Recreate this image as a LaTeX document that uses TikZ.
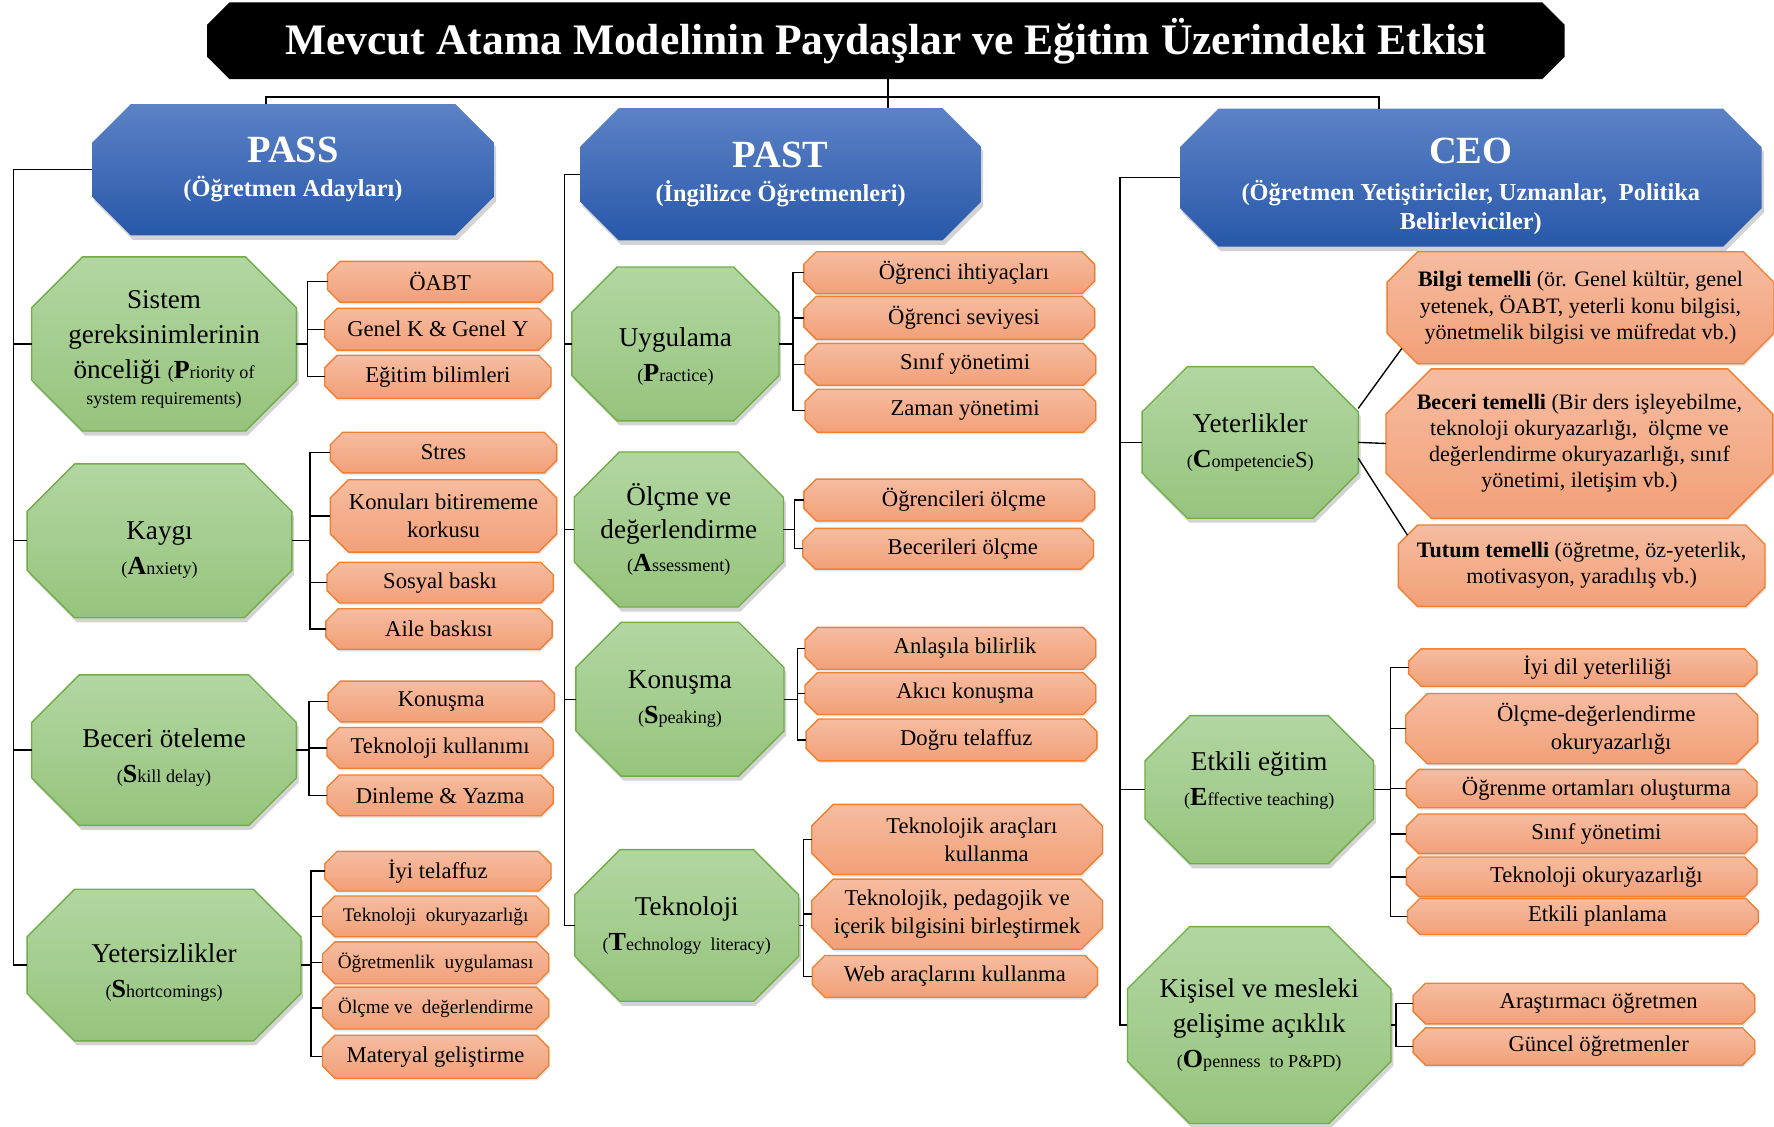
\documentclass[tikz,border=0pt]{standalone}
\usepackage{fontspec}
\setmainfont{Liberation Serif}
\usetikzlibrary{shadows}

\definecolor{blueTop}{RGB}{92,130,198}
\definecolor{blueBot}{RGB}{40,88,170}
\definecolor{greenTop}{RGB}{178,214,162}
\definecolor{greenBot}{RGB}{150,196,124}
\definecolor{greenLine}{RGB}{112,173,71}
\definecolor{orangeTop}{RGB}{246,188,160}
\definecolor{orangeBot}{RGB}{242,160,120}
\definecolor{orangeLine}{RGB}{240,128,48}

\pgfdeclarelayer{bg}
\pgfsetlayers{bg,main}

% English name: big first letter, small rest
\newcommand{\eng}[2]{{\fontsize{16}{17}\selectfont(}{\fontsize{23}{23}\selectfont\bfseries #1}{\fontsize{16}{17}\selectfont #2}}
% text block moved up/down inside its box
\newcommand{\lowered}[2]{\raisebox{#1}[0pt][0pt]{\begin{tabular}{@{}c@{}}#2\end{tabular}}}
% octagon round a node: name, chamfer, style
\newcommand{\octo}[3]{%
  \path[#3] ([xshift=#2]#1.north west) -- ([xshift=-#2]#1.north east)
    -- ([yshift=-#2]#1.north east) -- ([yshift=#2]#1.south east)
    -- ([xshift=-#2]#1.south east) -- ([xshift=#2]#1.south west)
    -- ([yshift=#2]#1.south west) -- ([yshift=-#2]#1.north west) -- cycle;}

\begin{document}
\begin{tikzpicture}[x=1pt, y=-1pt,
    wh/.style 2 args={minimum width=#1pt, minimum height=#2pt},
    up/.style={execute at end node={\rule[-#1]{0pt}{0pt}}},
    tshift/.style={execute at begin node={\hspace*{26pt}}},
    titlebox/.style={text=white, inner sep=0pt, outer sep=0pt,
        font=\bfseries\fontsize{38.5}{40}\selectfont},
    headbox/.style={text=white, align=center, inner sep=0pt, outer sep=0pt,
        font=\bfseries\fontsize{21.5}{30}\selectfont},
    groupbox/.style={align=center, inner sep=0pt, outer sep=0pt,
        font=\fontsize{24}{31}\selectfont},
    itembox/.style={align=center, inner sep=0pt, outer sep=0pt,
        font=\fontsize{20}{25}\selectfont},
    headfill/.style={top color=blueTop, bottom color=blueBot,
        drop shadow={shadow xshift=2pt, shadow yshift=-4pt, opacity=.35}},
    groupfill/.style={top color=greenTop, bottom color=greenBot, draw=greenLine, line width=1.2pt,
        drop shadow={shadow xshift=2pt, shadow yshift=-4pt, opacity=.35}},
    itemfill/.style={top color=orangeTop, bottom color=orangeBot, draw=orangeLine, line width=1.2pt,
        drop shadow={shadow xshift=1pt, shadow yshift=-2pt, opacity=.2}},
    link/.style={line width=1.2pt}
]
\useasboundingbox (0,0) rectangle (1568,996);

% Title
\node[titlebox, wh={1200}{68}] (Title) at (783,36)
    {Mevcut Atama Modelinin Paydaşlar ve Eğitim Üzerindeki Etkisi};

% Stakeholders
\node[headbox, wh={355}{116}] (Pass) at (259,150)
    {{\fontsize{34}{36}\selectfont PASS}\\(Öğretmen Adayları)};
\node[headbox, wh={354}{117}] (Past) at (690,154)
    {{\fontsize{34}{36}\selectfont PAST}\\(İngilizce Öğretmenleri)};
\node[headbox, wh={514}{122}] (Ceo) at (1300,157)
    {\lowered{-15pt}{{\fontsize{34}{36}\selectfont CEO}\\[3pt](Öğretmen Yetiştiriciler, Uzmanlar,~~Politika\\[-5pt]Belirleviciler)}};

% PASS groups
\node[groupbox, wh={234}{154}] (Sistem) at (145,304)
    {\lowered{-11pt}{Sistem\\gereksinimlerinin\\önceliği \eng{P}{riority of}\\[-8pt]{\fontsize{16}{17}\selectfont system requirements)}}};
\node[groupbox, wh={234}{136}] (Kaygi) at (141,478) {\lowered{-14pt}{Kaygı\\\eng{A}{nxiety)}}};
\node[groupbox, wh={234}{133}] (Beceri) at (145,663) {\lowered{-13pt}{Beceri öteleme\\\eng{S}{kill delay)}}};
\node[groupbox, wh={242}{134}] (Yetersiz) at (145,853) {\lowered{-13pt}{Yetersizlikler\\\eng{S}{hortcomings)}}};

% PASS items
\node[itembox, wh={199}{36}] (Sistem1) at (389,249) {ÖABT};
\node[itembox, wh={200}{37}] (Sistem2) at (387,291) {Genel K \& Genel Y};
\node[itembox, wh={200}{38}] (Sistem3) at (387,333) {Eğitim bilimleri};
\node[itembox, wh={200}{36}] (Kaygi1) at (392,400) {Stres};
\node[itembox, wh={200}{64}] (Kaygi2) at (392,456) {Konuları bitirememe\\korkusu};
\node[itembox, wh={200}{36}] (Kaygi3) at (389,515) {Sosyal baskı};
\node[itembox, wh={200}{36}] (Kaygi4) at (388,556) {Aile baskısı};
\node[itembox, wh={200}{36}] (Beceri1) at (390,620) {Konuşma};
\node[itembox, wh={200}{36}] (Beceri2) at (389,661) {Teknoloji kullanımı};
\node[itembox, wh={200}{36}] (Beceri3) at (389,703) {Dinleme \& Yazma};
\node[itembox, wh={200}{35}] (Yetersiz1) at (387,770) {İyi telaffuz};
\node[itembox, wh={200}{36}, font=\fontsize{17}{20}\selectfont] (Yetersiz2) at (385,810) {Teknoloji~~okuryazarlığı};
\node[itembox, wh={200}{37}, font=\fontsize{17}{20}\selectfont] (Yetersiz3) at (385,851) {Öğretmenlik~~uygulaması};
\node[itembox, wh={200}{37}, font=\fontsize{17}{20}\selectfont] (Yetersiz4) at (385,891) {Ölçme~ve~ değerlendirme};
\node[itembox, wh={200}{38}] (Yetersiz5) at (385,934) {Materyal geliştirme};

% PAST groups
\node[groupbox, wh={183}{136}] (Uygulama) at (597,304) {\lowered{-18pt}{Uygulama\\\eng{P}{ractice)}}};
\node[groupbox, wh={185}{137}] (Olcme) at (600,468) {Ölçme ve\\[-2pt]değerlendirme\\[-2pt]\eng{A}{ssessment)}};
\node[groupbox, wh={184}{136}] (Konusma) at (601,618) {Konuşma\\\eng{S}{peaking)}};
\node[groupbox, wh={198}{134}] (Teknoloji) at (607,818) {Teknoloji\\\eng{T}{echnology~ literacy)}};

% PAST items
\node[itembox, tshift, wh={257}{37}] (Uygulama1) at (839,241) {Öğrenci ihtiyaçları};
\node[itembox, tshift, wh={257}{38}] (Uygulama2) at (839,281) {Öğrenci seviyesi};
\node[itembox, tshift, wh={257}{37}] (Uygulama3) at (840,322) {Sınıf yönetimi};
\node[itembox, tshift, wh={257}{38}] (Uygulama4) at (840,363) {Zaman yönetimi};
\node[itembox, tshift, wh={257}{37}] (Olcme1) at (839,442) {Öğrencileri ölçme};
\node[itembox, tshift, wh={257}{36}] (Olcme2) at (838,485) {Becerileri ölçme};
\node[itembox, tshift, wh={257}{37}] (Konusma1) at (840,573) {Anlaşıla bilirlik};
\node[itembox, tshift, wh={257}{37}] (Konusma2) at (840,613) {Akıcı konuşma};
\node[itembox, tshift, wh={257}{37}] (Konusma3) at (841,654) {Doğru telaffuz};
\node[itembox, tshift, wh={257}{62}] (Teknoloji1) at (846,742) {Teknolojik araçları\\\hspace*{26pt}kullanma};
\node[itembox, wh={257}{62}] (Teknoloji2) at (846,808) {Teknolojik, pedagojik ve\\içerik bilgisini birleştirmek};
\node[itembox, wh={252}{37}] (Teknoloji3) at (844,863) {Web araçlarını kullanma};

% CEO groups
\node[groupbox, wh={191}{134}] (Yeterlik) at (1105,391) {Yeterlikler\\\eng{C}{ompetencie{\fontsize{20}{20}\selectfont S})}};
\node[groupbox, wh={202}{131}, up=20pt] (Etkili) at (1113,698) {Etkili eğitim\\\eng{E}{ffective teaching)}};
\node[groupbox, wh={233}{174}] (Kisisel) at (1113,906) {Kişisel ve mesleki\\gelişime açıklık\\\eng{O}{penness~ to P\&PD)}};

% CEO items
\node[itembox, wh={342}{99}, font=\fontsize{19.5}{23}\selectfont] (Yeterlik1) at (1397,272)
    {\textbf{Bilgi temelli} (ör. Genel kültür, genel\\yetenek, ÖABT, yeterli konu bilgisi,\\yönetmelik bilgisi ve müfredat vb.)};
\node[itembox, wh={342}{132}, font=\fontsize{19.5}{23}\selectfont] (Yeterlik2) at (1396,392)
    {\textbf{Beceri temelli} (Bir ders işleyebilme,\\teknoloji okuryazarlığı,~~ölçme ve\\değerlendirme okuryazarlığı, sınıf\\yönetimi, iletişim vb.)};
\node[itembox, wh={324}{72}, font=\fontsize{19.5}{23}\selectfont] (Yeterlik3) at (1398,500)
    {\textbf{Tutum temelli} (öğretme, öz-yeterlik,\\motivasyon, yaradılış vb.)};
\node[itembox, tshift, wh={308}{33}] (Etkili1) at (1399,590) {İyi dil yeterliliği};
\node[itembox, tshift, wh={311}{62}] (Etkili2) at (1398,644) {Ölçme-değerlendirme\\\hspace*{26pt}okuryazarlığı};
\node[itembox, tshift, wh={310}{34}] (Etkili3) at (1398,697) {Öğrenme ortamları oluşturma};
\node[itembox, tshift, wh={310}{35}] (Etkili4) at (1398,737) {Sınıf yönetimi};
\node[itembox, tshift, wh={310}{35}] (Etkili5) at (1398,775) {Teknoloji okuryazarlığı};
\node[itembox, tshift, wh={310}{32}] (Etkili6) at (1399,810) {Etkili planlama};
\node[itembox, tshift, wh={302}{36}] (Kisisel1) at (1400,887) {Araştırmacı öğretmen};
\node[itembox, tshift, wh={302}{33}] (Kisisel2) at (1400,925) {Güncel öğretmenler};

% shapes behind the texts
\begin{pgfonlayer}{bg}
\octo{Title}{20pt}{fill=black}
\foreach \n in {Pass,Past,Ceo} \octo{\n}{34pt}{headfill};
\foreach \n/\c in {Sistem/45pt, Kaygi/42pt, Beceri/42pt, Yetersiz/42pt,
    Uygulama/40pt, Olcme/40pt, Konusma/40pt, Teknoloji/40pt,
    Yeterlik/40pt, Etkili/40pt, Kisisel/55pt}
    \octo{\n}{\c}{groupfill};
\foreach \n/\c in {Sistem1/11pt, Sistem2/11pt, Sistem3/11pt,
    Kaygi1/11pt, Kaygi2/16pt, Kaygi3/11pt, Kaygi4/11pt,
    Beceri1/11pt, Beceri2/11pt, Beceri3/11pt,
    Yetersiz1/11pt, Yetersiz2/11pt, Yetersiz3/11pt, Yetersiz4/11pt, Yetersiz5/11pt,
    Uygulama1/11pt, Uygulama2/11pt, Uygulama3/11pt, Uygulama4/11pt,
    Olcme1/11pt, Olcme2/11pt, Konusma1/11pt, Konusma2/11pt, Konusma3/11pt,
    Teknoloji1/19pt, Teknoloji2/19pt, Teknoloji3/11pt,
    Yeterlik1/27pt, Yeterlik2/40pt, Yeterlik3/17pt,
    Etkili1/11pt, Etkili2/19pt, Etkili3/11pt, Etkili4/11pt, Etkili5/11pt, Etkili6/11pt,
    Kisisel1/11pt, Kisisel2/11pt}
    \octo{\n}{\c}{itemfill};
\end{pgfonlayer}

% connectors
\coordinate (Hub) at (785,86);
\draw[line width=2pt] (Title.south -| Hub) -- (Hub);
\draw[line width=2pt] ([xshift=-24pt]Pass.north) |- (Hub) -| ([xshift=-81pt]Ceo.north);
\draw[line width=2pt] (Hub) -- (Hub |- Past.north);

\coordinate (SpineL) at (12,0);
\coordinate (SpineM) at (499,0);
\coordinate (SpineR) at (990,0);
\foreach \h/\c/\s in {Pass/Sistem/SpineL, Pass/Kaygi/SpineL, Pass/Beceri/SpineL, Pass/Yetersiz/SpineL,
    Past/Uygulama/SpineM, Past/Olcme/SpineM, Past/Konusma/SpineM, Past/Teknoloji/SpineM,
    Ceo/Yeterlik/SpineR, Ceo/Etkili/SpineR, Ceo/Kisisel/SpineR}
    \draw[link] (\c.west) -- (\c.west -| \s) |- (\h.west);

\coordinate (BrA) at (272,0);
\coordinate (BrB) at (274,0);
\coordinate (BrC) at (273,0);
\coordinate (BrD) at (275,0);
\coordinate (BrE) at (701,0);
\coordinate (BrF) at (702,0);
\coordinate (BrG) at (705,0);
\coordinate (BrH) at (710,0);
\coordinate (BrM) at (1229,0);
\coordinate (BrN) at (1234,0);
\foreach \p/\c/\b in {Sistem/Sistem1/BrA, Sistem/Sistem2/BrA, Sistem/Sistem3/BrA,
    Kaygi/Kaygi1/BrB, Kaygi/Kaygi2/BrB, Kaygi/Kaygi3/BrB, Kaygi/Kaygi4/BrB,
    Beceri/Beceri1/BrC, Beceri/Beceri2/BrC, Beceri/Beceri3/BrC,
    Yetersiz/Yetersiz1/BrD, Yetersiz/Yetersiz2/BrD, Yetersiz/Yetersiz3/BrD, Yetersiz/Yetersiz4/BrD, Yetersiz/Yetersiz5/BrD,
    Uygulama/Uygulama1/BrE, Uygulama/Uygulama2/BrE, Uygulama/Uygulama3/BrE, Uygulama/Uygulama4/BrE,
    Olcme/Olcme1/BrF, Olcme/Olcme2/BrF,
    Konusma/Konusma1/BrG, Konusma/Konusma2/BrG, Konusma/Konusma3/BrG,
    Teknoloji/Teknoloji1/BrH, Teknoloji/Teknoloji2/BrH, Teknoloji/Teknoloji3/BrH,
    Etkili/Etkili1/BrM, Etkili/Etkili2/BrM, Etkili/Etkili3/BrM, Etkili/Etkili4/BrM, Etkili/Etkili5/BrM, Etkili/Etkili6/BrM,
    Kisisel/Kisisel1/BrN, Kisisel/Kisisel2/BrN}
    \draw[link] (\c.west) -- (\c.west -| \b) |- (\p.east);

% competencies fan out
\draw[link] ([yshift=30pt]Yeterlik.east) -- ([xshift=13pt,yshift=-36pt]Yeterlik1.west);
\draw[link] (Yeterlik.east) -- (Yeterlik2.west);
\draw[link] ([yshift=-14pt]Yeterlik.east) -- ([xshift=8pt,yshift=27pt]Yeterlik3.west);

\end{tikzpicture}
\end{document}
